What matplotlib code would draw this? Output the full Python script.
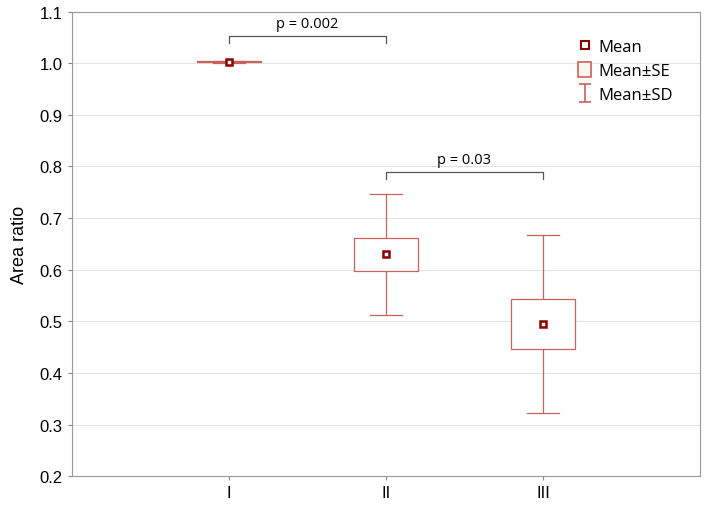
import matplotlib.pyplot as plt
import numpy as np
from matplotlib.lines import Line2D
from matplotlib.patches import Patch
from matplotlib.path import Path

groups = ['I', 'II', 'III']
means = [1.003, 0.630, 0.495]
se = [0.001, 0.032, 0.049]
sd = [0.002, 0.117, 0.172]

plt.rcParams['font.family'] = ['Liberation Sans', 'DejaVu Sans']

red = '#c8605d'
dark = '#8b0000'
seg = ['Open Sans', 'DejaVu Sans']

fig = plt.figure(figsize=(7.1, 5.06), dpi=100)
ax = fig.add_axes([0.101, 0.057, 0.885, 0.918])

x = np.arange(1, len(groups) + 1)
bw = 0.41
cw = 0.2

for xi, m, s, d in zip(x, means, se, sd):
    # SD whiskers
    ax.plot([xi, xi], [m + s, m + d], color=red, lw=0.9, zorder=2)
    ax.plot([xi, xi], [m - s, m - d], color=red, lw=0.9, zorder=2)
    ax.plot([xi - cw / 2, xi + cw / 2], [m + d, m + d], color=red, lw=0.9, zorder=2)
    ax.plot([xi - cw / 2, xi + cw / 2], [m - d, m - d], color=red, lw=0.9, zorder=2)
    # SE box
    ax.add_patch(plt.Rectangle((xi - bw / 2, m - s), bw, 2 * s, facecolor='white',
                               edgecolor=red, lw=0.9, zorder=3))

ax.plot(x, means, 's', color=dark, mfc='white', mec=dark, ms=4.5, mew=1.8, ls='none', zorder=4)

# significance brackets
def bracket(x1, x2, y, txt):
    ax.plot([x1, x1, x2, x2], [y - 0.013, y, y, y - 0.013], color='#555555', lw=0.9)
    ax.text((x1 + x2) / 2, y + 0.01, txt, ha='center', va='bottom', fontsize=10.5, family=seg)

bracket(1, 2, 1.053, 'p = 0.002')
bracket(2, 3, 0.789, 'p = 0.03')

ax.set_xlim(0, 4)
ax.set_ylim(0.2, 1.1)
ax.set_xticks(x)
ax.set_xticklabels(groups, fontsize=12)
ax.set_yticks(np.arange(0.2, 1.11, 0.1))
ax.yaxis.set_major_formatter(plt.FormatStrFormatter('%.1f'))
ax.tick_params(labelsize=12, length=3, color='#888888')
ax.set_ylabel('Area ratio', fontsize=13, labelpad=8)
ax.yaxis.grid(True, color='#e4e4e4', lw=0.8)
ax.set_axisbelow(True)
for sp in ax.spines.values():
    sp.set_color('#999999')

ibar = Path([(-0.7, 1), (0.7, 1), (0, 1), (0, -1), (-0.7, -1), (0.7, -1)],
            [Path.MOVETO, Path.LINETO, Path.MOVETO, Path.LINETO, Path.MOVETO, Path.LINETO])
handles = [
    Line2D([], [], marker='s', ls='none', mfc='white', mec=dark, mew=1.5, ms=6),
    Patch(facecolor='#fff6ee', edgecolor=red, lw=1.2),
    Line2D([], [], marker=ibar, ls='none', color=red, ms=13, mew=1.2),
]
leg = ax.legend(handles, ['Mean', 'Mean\u00b1SE', 'Mean\u00b1SD'], loc='upper right',
                frameon=False, prop={'family': seg, 'size': 12}, handlelength=0.8,
                handleheight=1.0, handletextpad=0.4, labelspacing=0.4,
                bbox_to_anchor=(0.98, 0.975))

fig.savefig('out.png', dpi=100)
